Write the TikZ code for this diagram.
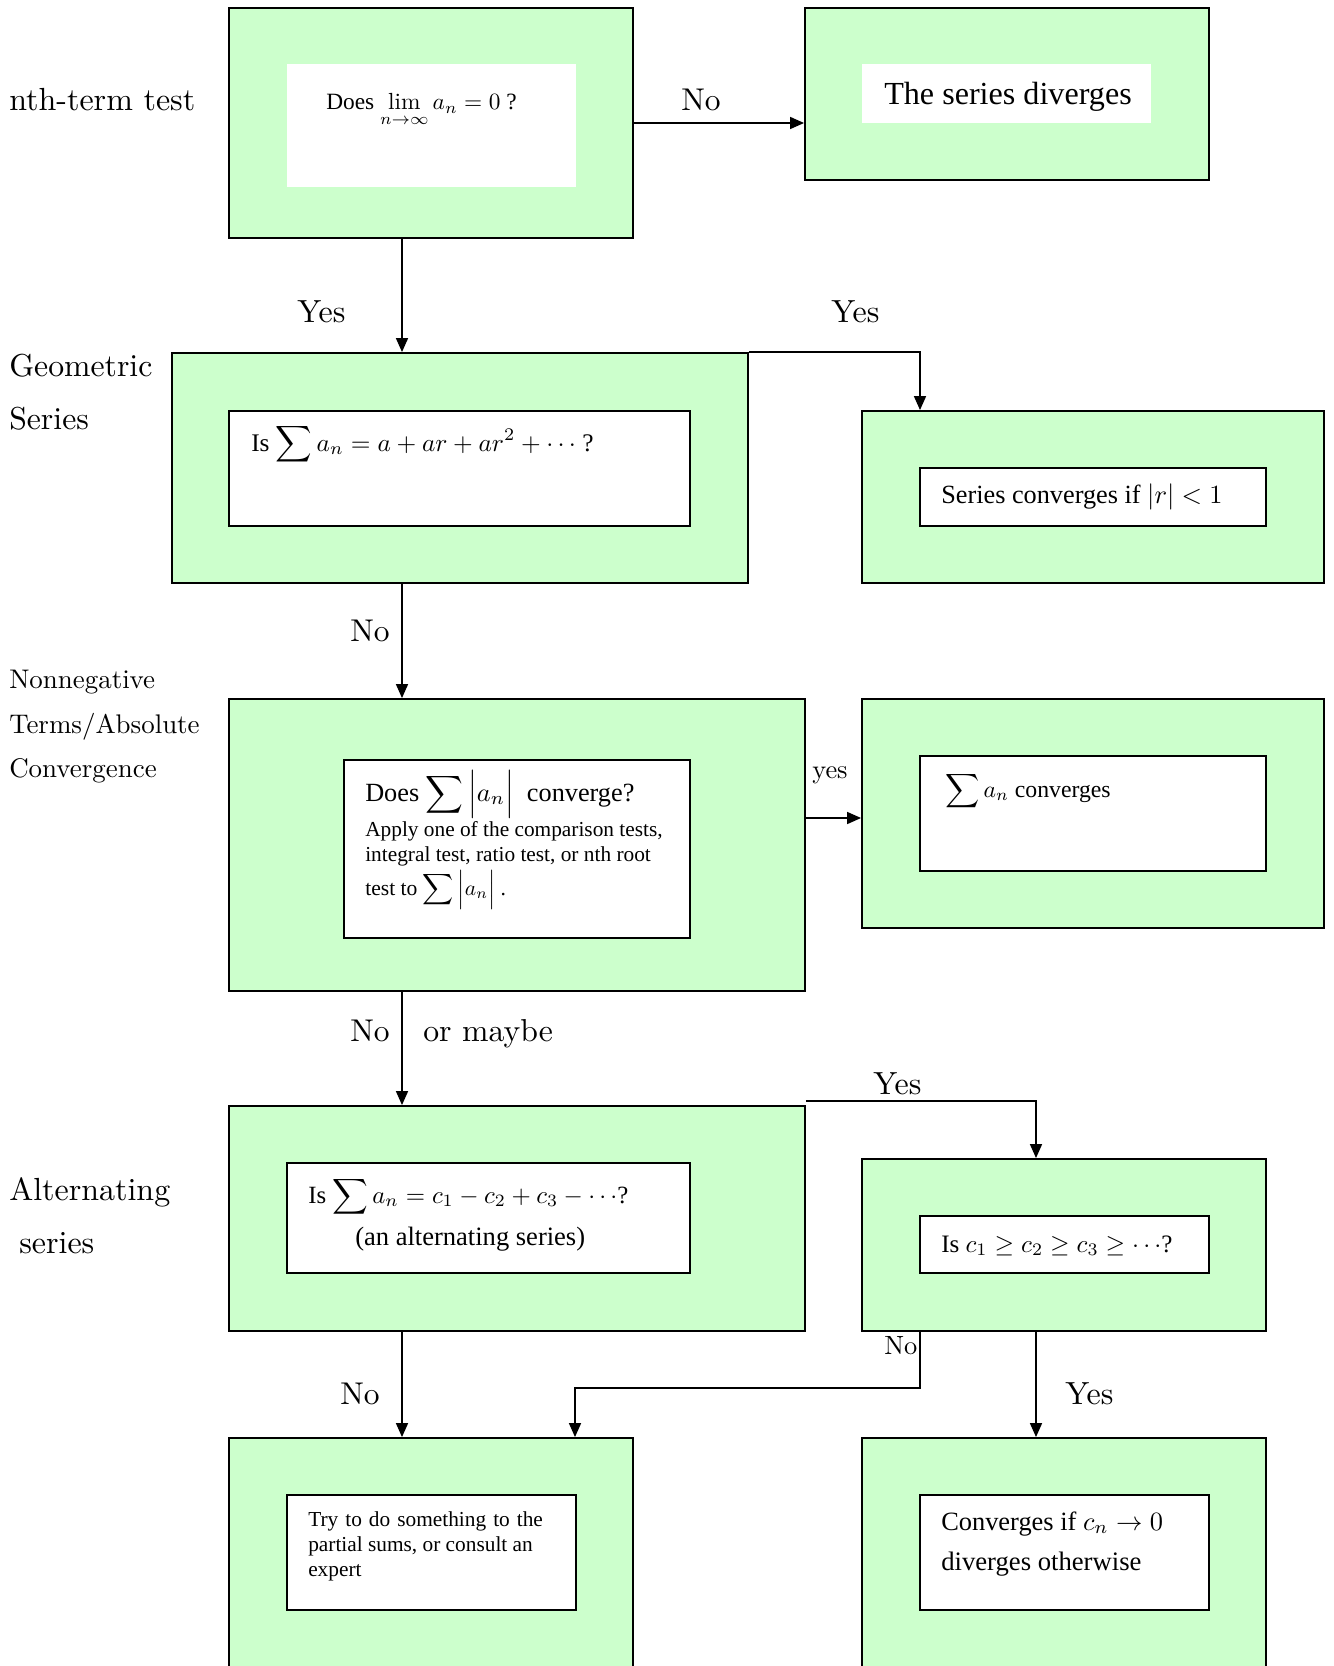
\documentclass[tikz,border=0pt]{standalone}
\usepackage{fontspec}
\newfontfamily\tms{Liberation Serif}
\usetikzlibrary{arrows.meta,fit}
\definecolor{boxgreen}{HTML}{CCFFCC}
\newcommand\sbx[2]{\scalebox{#1}{#2}}
\begin{document}
\begin{tikzpicture}[x=0.75pt,y=-0.75pt,
  outer/.style={draw=black, fill=boxgreen, line width=1.4pt, inner sep=0pt},
  inner/.style={draw=black, fill=white, line width=1.4pt, inner sep=0pt},
  plainw/.style={fill=white, inner sep=0pt},
  arr/.style={-{Triangle[length=10.5pt,width=9pt]}, line width=1.2pt},
  lbl/.style={anchor=base west, inner sep=0pt},
  tlbl/.style={anchor=base west, inner sep=0pt, font=\tms},
]
\useasboundingbox (0,0) rectangle (1334,1666);
\clip (0,0) rectangle (1334,1666);

% outer boxes
\node[outer, fit={(229,8) (633,238)}] (b1) {};
\node[outer, fit={(805,8) (1209,180)}] (b2) {};
\node[outer, fit={(172,353) (748,583)}] (b3) {};
\node[outer, fit={(862,411) (1324,583)}] (b4) {};
\node[outer, fit={(229,699) (805,991)}] (b5) {};
\node[outer, fit={(862,699) (1324,928)}] (b6) {};
\node[outer, fit={(229,1106) (805,1331)}] (b7) {};
\node[outer, fit={(862,1159) (1266,1331)}] (b8) {};
\node[outer, fit={(229,1438) (633,1720)}] (b9) {};
\node[outer, fit={(862,1438) (1266,1720)}] (b10) {};

% inner boxes
\node[plainw, fit={(287,64) (576,187)}] (i1) {};
\node[plainw, fit={(862,64) (1151,123)}] (i2) {};
\node[inner, fit={(229,411) (690,526)}] (i3) {};
\node[inner, fit={(920,468) (1266,526)}] (i4) {};
\node[inner, fit={(344,760) (690,938)}] (i5) {};
\node[inner, fit={(920,756) (1266,871)}] (i6) {};
\node[inner, fit={(287,1163) (690,1273)}] (i7) {};
\node[inner, fit={(920,1216) (1209,1273)}] (i8) {};
\node[inner, fit={(287,1495) (576,1610)}] (i9) {};
\node[inner, fit={(920,1495) (1209,1610)}] (i10) {};

% box texts
\node[tlbl] (x1) at (326,110) {\sbx{1.75}{Does $\lim\limits_{n\to\infty} a_{n} = 0$ ?}};
\node[tlbl] (x2) at (884,105) {\sbx{2.41}{The series diverges}};
\node[tlbl] (x3) at (251,451) {\sbx{1.9}{Is $\displaystyle\sum a_{n} = a + ar + ar^{2} + \cdots$ ?}};
\node[tlbl] (x4) at (941,503) {\sbx{1.97}{Series converges if $|r| < 1$}};
\node[tlbl] (x5a) at (365,801) {\sbx{1.97}{Does $\displaystyle\sum\Big|a_{n}\Big|$\ \ converge?}};
\node[tlbl] (x5b) at (365,836) {\sbx{1.6}{Apply one of the comparison tests,}};
\node[tlbl] (x5c) at (365,861) {\sbx{1.6}{integral test, ratio test, or nth root}};
\node[tlbl] (x5d) at (365,895) {\sbx{1.62}{test to $\displaystyle\sum\Big|a_{n}\Big|$ .}};
\node[tlbl] (x6) at (945,797) {\sbx{1.78}{$\displaystyle\sum a_{n}$ converges}};
\node[tlbl] (x7a) at (308,1203) {\sbx{1.86}{Is $\displaystyle\sum a_{n} = c_{1} - c_{2} + c_{3} - \cdots$?}};
\node[tlbl] (x7b) at (355,1245) {\sbx{1.99}{(an alternating series)}};
\node[tlbl] (x8) at (941,1252) {\sbx{1.88}{Is $c_{1} \geq c_{2} \geq c_{3} \geq \cdots$?}};
\node[tlbl] (x9a) at (308,1526) {\sbx{1.6}{\makebox[110pt][s]{Try to do something to the}}};
\node[tlbl] (x9b) at (308,1551) {\sbx{1.6}{partial sums, or consult an}};
\node[tlbl] (x9c) at (308,1576) {\sbx{1.6}{expert}};
\node[tlbl] (x10a) at (941,1530) {\sbx{1.98}{Converges if $c_{n} \to 0$}};
\node[tlbl] (x10b) at (941,1570) {\sbx{2.0}{diverges otherwise}};

% left headings
\node[lbl] (h1) at (9,111) {\sbx{2.4}{nth-term test}};
\node[lbl] (h2a) at (9,376) {\sbx{2.38}{Geometric}};
\node[lbl] (h2b) at (9,429) {\sbx{2.38}{Series}};
\node[lbl] (h3a) at (9,688) {\sbx{2.02}{Nonnegative}};
\node[lbl] (h3b) at (9,733) {\sbx{2.02}{Terms/Absolute}};
\node[lbl] (h3c) at (9,777) {\sbx{2.02}{Convergence}};
\node[lbl] (h4a) at (9,1200) {\sbx{2.4}{Alternating}};
\node[lbl] (h4b) at (19,1253) {\sbx{2.4}{series}};

% connector labels
\node[lbl] (l1) at (681,111) {\sbx{2.36}{No}};
\node[lbl] (l2) at (297,322) {\sbx{2.4}{Yes}};
\node[lbl] (l3) at (831,322) {\sbx{2.4}{Yes}};
\node[lbl] (l4) at (350,641) {\sbx{2.36}{No}};
\node[lbl] (l5) at (812,778) {\sbx{1.98}{yes}};
\node[lbl] (l6) at (350,1041) {\sbx{2.36}{No}};
\node[lbl] (l7) at (423,1041) {\sbx{2.38}{or maybe}};
\node[lbl] (l8) at (873,1094) {\sbx{2.4}{Yes}};
\node[lbl] (l9) at (884,1354) {\sbx{1.98}{No}};
\node[lbl] (l10) at (340,1404) {\sbx{2.36}{No}};
\node[lbl] (l11) at (1065,1404) {\sbx{2.4}{Yes}};

% helper coordinates
\coordinate (colA) at (402,0);
\coordinate (colB) at (920,0);
\coordinate (colD) at (1036,0);
\coordinate (colF) at (575,0);
\coordinate (rowA) at (0,123);
\coordinate (rowC) at (0,818);
\coordinate (rowE) at (0,1101);
\coordinate (rowG) at (0,1388);

% connectors
\draw[arr] (b1.east |- rowA) -- (b2.west |- rowA);
\draw[arr] (b1.south -| colA) -- (b3.north -| colA);
\draw[arr] (b3.north east) -| (b4.north -| colB);
\draw[arr] (b3.south -| colA) -- (b5.north -| colA);
\draw[arr] (b5.east |- rowC) -- (b6.west |- rowC);
\draw[arr] (b5.south -| colA) -- (b7.north -| colA);
\draw[arr] (b7.east |- rowE) -| (b8.north -| colD);
\draw[arr] (b7.south -| colA) -- (b9.north -| colA);
\draw[arr] (b8.south -| colB) -- (colB |- rowG) -| (b9.north -| colF);
\draw[arr] (b8.south -| colD) -- (b10.north -| colD);
\end{tikzpicture}
\end{document}
